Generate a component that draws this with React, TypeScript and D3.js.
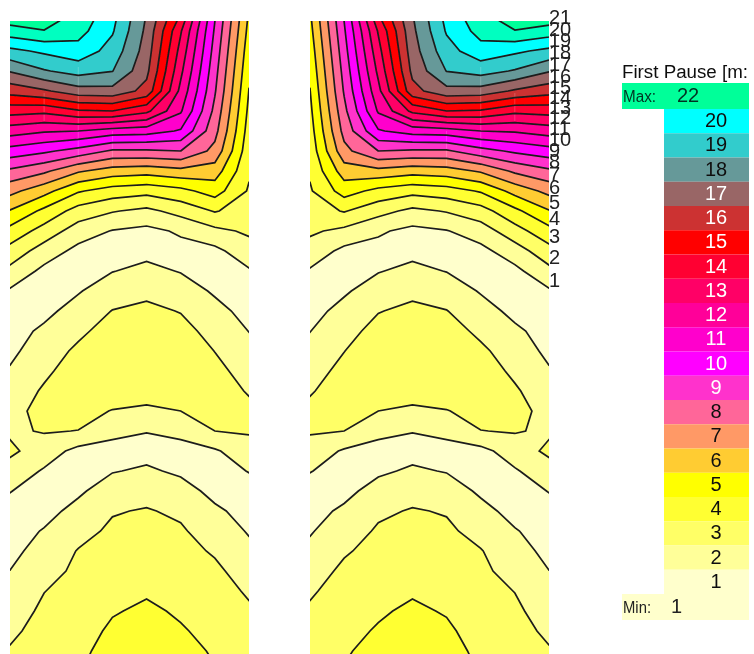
import * as d3 from "d3";

// depth rows are 20px apart, the first sits just above the visible plot
const col0 = [22.1, 20.54, 18.75, 17.08, 15.38, 13.4, 11.45, 9.6, 7.8, 6.3, 4.93, 3.67, 2.64, 1.73, 0.88, 0.68, 0.68, 0.8, 1.08, 1.38, 1.65, 1.85, 2.2, 1.58, 1.03, 0.72, 0.62, 0.75, 1.01, 1.28, 1.55, 1.81, 2.08, 2.35];
const col1 = [22.58, 20.92, 19.18, 17.91, 15.86, 13.25, 11.11, 9.18, 7.2, 5.36, 3.75, 2.6, 1.53, 0.75, 0.55, 0.78, 1.15, 1.48, 1.8, 2.13, 2.35, 2.07, 1.5, 0.9, 0.62, 0.7, 1.06, 1.37, 1.68, 1.98, 2.18, 2.35, 2.52, 2.68];
const col2 = [20.89, 20.37, 19.6, 18.39, 16.57, 13.88, 11.0, 8.63, 6.13, 4.1, 2.58, 1.5, 0.72, 0.55, 0.93, 1.34, 1.77, 2.2, 2.5, 2.6, 2.4, 1.98, 0.7, 0.55, 0.85, 1.28, 1.68, 2.05, 2.18, 2.33, 2.48, 2.63, 2.78, 2.93];
const col3 = [19.4, 19.1, 18.62, 18.03, 16.67, 14.0, 10.57, 7.86, 5.55, 3.55, 2.07, 0.95, 0.7, 0.97, 1.5, 2.03, 2.45, 2.75, 2.85, 2.65, 1.95, 1.19, 0.75, 0.95, 1.47, 1.93, 2.17, 2.37, 2.55, 2.75, 2.93, 3.15, 3.35, 3.55];
const col4 = [17.0, 16.77, 16.55, 16.25, 15.67, 13.25, 10.43, 7.86, 5.4, 3.33, 1.75, 0.75, 0.75, 1.23, 1.74, 2.25, 2.65, 2.85, 2.85, 2.5, 1.78, 1.03, 0.7, 1.13, 1.66, 2.07, 2.28, 2.49, 2.7, 2.9, 3.15, 3.4, 3.6, 3.8];
const col5 = [14.1, 13.1, 12.65, 12.22, 11.73, 11.12, 9.9, 8.0, 5.7, 3.7, 2.35, 1.13, 0.7, 0.95, 1.45, 1.95, 2.35, 2.7, 2.85, 2.75, 2.0, 1.23, 0.7, 0.85, 1.35, 1.83, 2.12, 2.32, 2.51, 2.7, 2.89, 3.08, 3.3, 3.5];
const col6 = [9.15, 8.87, 8.61, 8.35, 8.1, 7.73, 7.33, 6.7, 5.5, 4.44, 3.07, 1.75, 0.75, 0.6, 0.88, 1.28, 1.63, 1.98, 2.28, 2.5, 2.4, 2.0, 0.88, 0.7, 0.75, 1.15, 1.52, 1.89, 2.2, 2.45, 2.6, 2.75, 2.9, 3.05];
const col7 = [4.92, 4.68, 4.43, 4.2, 3.97, 3.77, 3.56, 3.35, 3.14, 2.89, 2.53, 2.16, 1.58, 0.9, 0.6, 0.7, 0.98, 1.29, 1.6, 1.91, 2.25, 2.1, 1.58, 1.03, 0.7, 0.7, 0.92, 1.22, 1.54, 1.86, 2.15, 2.35, 2.5, 2.65];

const columns = [col0, col1, col2, col3, col4, col5, col6, col7];

const levels = d3.range(1, 22);
const legendLabels = ["20", "19", "18", "17", "16", "15", "14", "13", "12", "11", "10", "9", "8", "7", "6", "5", "4", "3", "2", "1"];
const lightText = ["17", "16", "15", "14", "13", "12", "11", "10", "9"];
// index 0 = first band (value up to 1), last = Max band
const bandColors = ["#FFFFCC", "#FFFF99", "#FFFF66", "#FFFF33", "#FFFF00", "#FFCC33", "#FF9966", "#FF6699", "#FF33CC", "#FF00FF", "#FF00CC", "#FF0099", "#FF0066", "#FF0033", "#FF0000", "#CC3333", "#996666", "#669999", "#33CCCC", "#00FFFF", "#00FFC0", "#00FF99"];

// faint seams left in the fill along the grid: [column, first row, last row]
const seamColumns = [[1, 4.1, 5.5], [2, 2.8, 7.4], [3, 6, 7.8]];

const font = "'Liberation Sans', Arial, sans-serif";
const nRows = col0.length;
const nCols = columns.length;

const grid: number[] = [];
for (let r = 0; r < nRows; r++) {
  for (let c = 0; c < nCols; c++) grid.push(columns[c][r]);
}

const contours = d3.contours().size([nCols, nRows]).thresholds(levels).smooth(true)(grid);

// d3.contours puts sample i at i + 0.5
const yScale = d3.scaleLinear().domain([0.5, nRows - 0.5]).range([11, 671]);

const Panel = ({ id, x0, x1 }: { id: string; x0: number; x1: number }) => {
  const xScale = d3.scaleLinear().domain([0.5, nCols - 0.5]).range([x0, x1]);
  const path = d3.geoPath(
    d3.geoTransform({
      point(x, y) {
        this.stream.point(xScale(x), yScale(y));
      },
    })
  );
  const left = Math.min(x0, x1);
  return (
    <g>
      <clipPath id={id}>
        <rect x={left} y={21} width={Math.abs(x1 - x0)} height={633} />
      </clipPath>
      <g clipPath={`url(#${id})`}>
        <rect x={left} y={21} width={Math.abs(x1 - x0)} height={633} fill={bandColors[0]} />
        {contours.map((c, i) => (
          <path key={i} d={path(c) ?? ""} fill={bandColors[i + 1]} />
        ))}
        {seamColumns.map(([c, r0, r1]) => (
          <line
            key={c}
            x1={xScale(c + 0.5)}
            x2={xScale(c + 0.5)}
            y1={yScale(r0 + 0.5)}
            y2={yScale(r1 + 0.5)}
            stroke="#fff"
            strokeOpacity={0.2}
          />
        ))}
        {contours.map((c, i) => (
          <path key={i} d={path(c) ?? ""} fill="none" stroke="#1c1c1c" strokeWidth={1.7} />
        ))}
      </g>
    </g>
  );
};

// where a level first drops below its value along the outer column
const labelY = (level: number) => {
  for (let r = 0; r < nRows - 1; r++) {
    const a = col0[r];
    const b = col0[r + 1];
    if (a >= level && b < level) return yScale(r + 0.5 + (a - level) / (a - b));
  }
  return 0;
};

export default function App() {
  const legendY = d3.scaleBand().domain(legendLabels).range([109, 594]);
  return (
    <svg width={754} height={654} style={{ position: "absolute", left: 0, top: 0 }} fontFamily={font}>
      <defs>
        <filter id="soft" x="-2%" y="-2%" width="104%" height="104%">
          <feGaussianBlur stdDeviation={0.45} />
        </filter>
      </defs>
      <rect width={754} height={654} fill="#fff" />
      <g filter="url(#soft)">
        <Panel id="leftPanel" x0={10} x1={249} />
        <Panel id="rightPanel" x0={549} x1={310} />

        {levels.map((l) => (
          <text key={l} x={549} y={labelY(l) - 1} fontSize={20} fill="#222">
            {l}
          </text>
        ))}

        <text x={622} y={78} fontSize={18} fill="#111" textLength={126} lengthAdjust="spacingAndGlyphs">
          First Pause [m:
        </text>
        <rect x={622} y={83} width={127} height={26} fill={bandColors[21]} />
        <text x={623} y={102} fontSize={16} fill="#032" textLength={33} lengthAdjust="spacingAndGlyphs">
          Max:
        </text>
        <text x={677} y={102} fontSize={20} fill="#032">22</text>
        {legendLabels.map((l) => (
          <g key={l}>
            <rect x={664} y={legendY(l)} width={85} height={legendY.bandwidth()} fill={bandColors[+l - 1]} />
            <text
              x={716}
              y={(legendY(l) ?? 0) + legendY.bandwidth() / 2 + 6}
              fontSize={20}
              textAnchor="middle"
              fill={lightText.includes(l) ? "#fff" : "#111"}
            >
              {l}
            </text>
          </g>
        ))}
        <rect x={622} y={594} width={127} height={26} fill={bandColors[0]} />
        <text x={623} y={613} fontSize={16} fill="#222" textLength={28} lengthAdjust="spacingAndGlyphs">
          Min:
        </text>
        <text x={671} y={613} fontSize={20} fill="#222">1</text>
      </g>
    </svg>
  );
}
